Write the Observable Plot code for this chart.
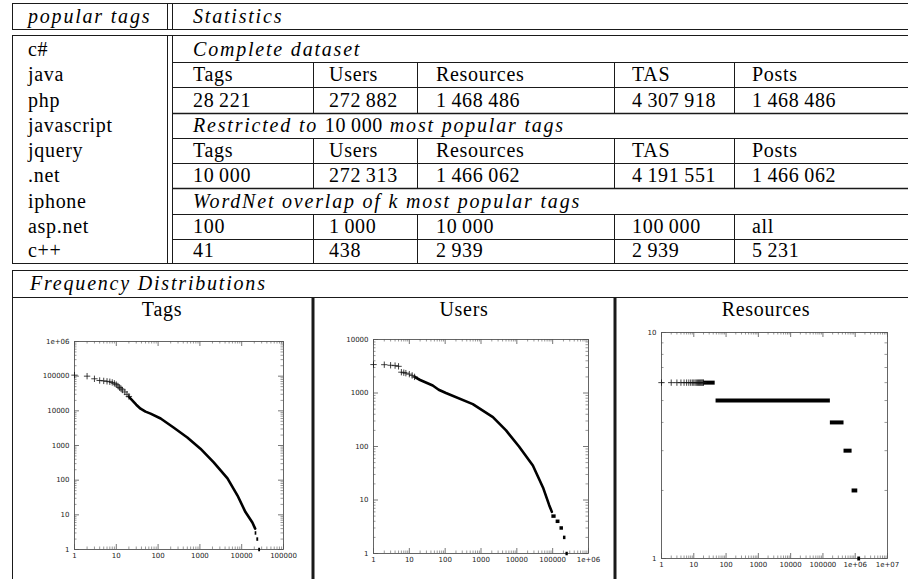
<!DOCTYPE html>
<html><head><meta charset="utf-8">
<script src="https://cdn.jsdelivr.net/npm/d3@7"></script>
<script src="https://cdn.jsdelivr.net/npm/@observablehq/plot@0.6"></script>
<style>
html,body{margin:0;padding:0;background:#fff;}
#page{position:relative;width:908px;height:579px;overflow:hidden;background:#fff;}
#page svg.layout{position:absolute;left:0;top:0;}
.chart{position:absolute;}
</style></head><body><div id="page"></div>
<script>
// ---------- table data ----------
const headerLeft = "popular tags";
const headerRight = "Statistics";
const popularTags = ["c#", "java", "php", "javascript", "jquery", ".net", "iphone", "asp.net", "c++"];
const statHeaders = ["Tags", "Users", "Resources", "TAS", "Posts"];
const completeDataset = [28221, 272882, 1468486, 4307918, 1468486];
const restrictedDataset = [10000, 272313, 1466062, 4191551, 1466062];
const wordnetK = [100, 1000, 10000, 100000, "all"];
const wordnetOverlap = [41, 438, 2939, 2939, 5231];
const sectionTitle = "Frequency Distributions";
const panelTitles = ["Tags", "Users", "Resources"];

// ---------- plot data (rank, frequency) ----------
const tagsSparse = [[1,107000],[2,100000],[3,84000],[4,75000],[5,73000],[6,71000],[7,69000],[8,66000],[9,62000],[10,57000],[11,52000],[12,47000],[13,43000],[14,40000],[16,35000],[18,30000],[20,26000]];
const tagsCurve = [[20,26000],[22,22400],[30,15000],[38,11500],[50,9500],[66,8300],[115,6000],[234,3300],[500,1700],[1030,810],[2140,325],[4570,112],[7940,36],[12300,12],[18000,6],[21000,4]];
const tagsTail = [[3,21000,23000],[2,23000,25500],[1,25500,28221]];
const tagsXTicks = [1,10,100,1000,10000,100000];
const tagsYTicks = [1,10,100,1000,10000,100000,1000000];

const usersSparse = [[1,3400],[2,3380],[3,3300],[4,3250],[5,3150],[6,2450],[7,2400],[8,2350],[10,2250],[12,2130],[14,2000]];
const usersCurve = [[14,2000],[20,1750],[45,1380],[66,1150],[105,1000],[590,620],[2150,355],[5000,200],[11500,100],[28000,44],[54000,17],[80000,8],[95000,6]];
const usersTail = [[5,95000,125000],[4,125000,160000],[3,160000,200000],[2,200000,235000],[1,235000,272882]];
const usersXTicks = [1,10,100,1000,10000,100000,1000000];
const usersYTicks = [1,10,100,1000,10000];

const resSparse = [[1,6],[2,6],[3,6],[4,6],[5,6],[6,6],[7,6],[8,6],[9,6],[10,6],[11,6],[12,6],[13,6],[14,6],[15,6],[16,6],[17,6],[18,6],[19,6],[20,6]];
const resBars = [[6,20,46],[5,49,170000],[4,170000,450000],[3,450000,800000],[2,800000,1200000],[1,1200000,1468486]];
const resXTicks = [1,10,100,1000,10000,100000,1000000,10000000];
const resYTicks = [1,10];

// ---------- layout ----------
const page = d3.select("#page");
const svg = page.append("svg").attr("class","layout").attr("width",908).attr("height",579);
const INK = "#1a1a1a";
const SERIF = "'Liberation Serif', 'DejaVu Serif', serif";
const IT_LS = 1.8, UP_LS = 0.7;
function hline(x1,x2,y,w=1){svg.append("line").attr("x1",x1).attr("x2",x2).attr("y1",y).attr("y2",y).attr("stroke",INK).attr("stroke-width",w);}
function vline(x,y1,y2,w=1){svg.append("line").attr("x1",x).attr("x2",x).attr("y1",y1).attr("y2",y2).attr("stroke",INK).attr("stroke-width",w);}
function txt(x,y,s,{italic=false,anchor="start",size=20}={}){
  return svg.append("text").attr("x",x).attr("y",y).attr("text-anchor",anchor)
    .attr("font-family",SERIF).attr("font-size",size).attr("fill","#000")
    .attr("font-style",italic?"italic":"normal").attr("letter-spacing",italic?IT_LS:UP_LS).text(s);
}
const fmtNum = v => typeof v === "number" ? String(v).replace(/\B(?=(\d{3})+(?!\d))/g, "\u2009") : v;

// header box
hline(12,908,3.5); hline(12,908,29.5);
vline(12.5,3,30); vline(167.5,3,30); vline(172.5,3,30);
txt(28,23,headerLeft,{italic:true});
txt(193,23,headerRight,{italic:true});

// body box
const rowBottoms = [62,87,113,138,163,188,214,239,263];
const rowTops = [35].concat(rowBottoms.slice(0,-1));
hline(12,908,35.5); hline(12,908,263.5);
vline(12.5,35,264); vline(167.5,35,264); vline(172.5,35,264);
rowBottoms.slice(0,-1).forEach((y,i)=>hline(172,908,y+0.5,(i===2||i===5)?1.6:1));
const colLines = [313,417,614,734];
[[1,2],[4,5],[7,8]].forEach(([a,b])=>colLines.forEach(x=>vline(x+0.5,rowTops[a],rowBottoms[b])));
popularTags.forEach((t,i)=>txt(28,rowBottoms[i]-6,t));
const colX = [193,329,436,632,752];
txt(193,rowBottoms[0]-6,"Complete dataset",{italic:true});
statHeaders.forEach((h,j)=>txt(colX[j],rowBottoms[1]-6,h));
completeDataset.forEach((v,j)=>txt(colX[j],rowBottoms[2]-6,fmtNum(v)));
{
  const t = svg.append("text").attr("x",193).attr("y",rowBottoms[3]-6).attr("font-family",SERIF).attr("font-size",20);
  t.append("tspan").attr("font-style","italic").attr("letter-spacing",IT_LS).text("Restricted to ");
  t.append("tspan").attr("letter-spacing",UP_LS).text(fmtNum(restrictedDataset[0]));
  t.append("tspan").attr("font-style","italic").attr("letter-spacing",IT_LS).text(" most popular tags");
}
statHeaders.forEach((h,j)=>txt(colX[j],rowBottoms[4]-6,h));
restrictedDataset.forEach((v,j)=>txt(colX[j],rowBottoms[5]-6,fmtNum(v)));
txt(193,rowBottoms[6]-6,"WordNet overlap of k most popular tags",{italic:true});
wordnetK.forEach((v,j)=>txt(colX[j],rowBottoms[7]-6,fmtNum(v)));
wordnetOverlap.forEach((v,j)=>txt(colX[j],rowBottoms[8]-6,fmtNum(v)));

// frequency section
hline(12,908,270.5); hline(12,908,297.5);
vline(12.5,270,579);
vline(313,297,579,3); vline(615,297,579,3);
txt(30,290,sectionTitle,{italic:true});
const titleX = [162,464,766];
panelTitles.forEach((t,i)=>txt(titleX[i],316,t,{anchor:"middle"}));

// ---------- gnuplot-like log-log charts ----------
const AX = "#555";
const tickFmt = v => v >= 1e6 ? "1e+0" + Math.round(Math.log10(v)) : String(v);
function gnuplot({xDomain,yDomain,xTicks,yTicks,fw,fh,left,top,marks}){
  const ml=40, mr=18, mt=8, mb=20;
  const minor = (ticks,dom)=>{const o=[];ticks.forEach(t=>{for(let k=2;k<=9;k++){const v=t*k;if(v>dom[0]&&v<dom[1])o.push(v);}});return o;};
  const xm = minor(xTicks,xDomain), ym = minor(yTicks,yDomain);
  const T=5, t=2.5;
  const chart = Plot.plot({
    width: ml+fw+mr, height: mt+fh+mb,
    marginLeft: ml, marginRight: mr, marginTop: mt, marginBottom: mb,
    x: {type:"log", domain:xDomain, label:null},
    y: {type:"log", domain:yDomain, label:null},
    style: {background:"transparent", overflow:"visible", fontFamily:"'DejaVu Sans', sans-serif"},
    marks: [
      Plot.ruleX(xTicks,{stroke:AX,strokeWidth:0.8,insetTop:fh-T}),
      Plot.ruleX(xTicks,{stroke:AX,strokeWidth:0.8,insetBottom:fh-T}),
      Plot.ruleX(xm,{stroke:AX,strokeWidth:0.6,insetTop:fh-t}),
      Plot.ruleX(xm,{stroke:AX,strokeWidth:0.6,insetBottom:fh-t}),
      Plot.ruleY(yTicks,{stroke:AX,strokeWidth:0.8,insetRight:fw-T}),
      Plot.ruleY(yTicks,{stroke:AX,strokeWidth:0.8,insetLeft:fw-T}),
      Plot.ruleY(ym,{stroke:AX,strokeWidth:0.6,insetRight:fw-t}),
      Plot.ruleY(ym,{stroke:AX,strokeWidth:0.6,insetLeft:fw-t}),
      Plot.frame({stroke:AX,strokeWidth:0.9}),
      Plot.axisX({ticks:xTicks,tickSize:0,tickPadding:4,tickFormat:tickFmt,fontSize:7,fill:"#222",label:null}),
      Plot.axisY({ticks:yTicks,tickSize:0,tickPadding:5,tickFormat:tickFmt,fontSize:7,fill:"#222",label:null}),
      ...marks
    ]
  });
  chart.classList.add("chart");
  chart.style.left = (left-ml)+"px";
  chart.style.top = (top-mt)+"px";
  page.node().appendChild(chart);
}
const plusDots = data => Plot.dot(data,{x:d=>d[0],y:d=>d[1],symbol:"plus",r:2.2,stroke:"#111",strokeWidth:0.8});
const curve = (data,w) => Plot.line(data,{x:d=>d[0],y:d=>d[1],stroke:"#000",strokeWidth:w});
const bars = (data,w) => Plot.ruleY(data,{y:d=>d[0],x1:d=>d[1],x2:d=>d[2],stroke:"#000",strokeWidth:w});

gnuplot({xDomain:[1,100000],yDomain:[1,1000000],xTicks:tagsXTicks,yTicks:tagsYTicks,fw:209,fh:208,left:74,top:341,
  marks:[curve(tagsCurve,2.6),plusDots(tagsSparse),bars(tagsTail,3.5)]});
gnuplot({xDomain:[1,1000000],yDomain:[1,10000],xTicks:usersXTicks,yTicks:usersYTicks,fw:215,fh:214,left:373,top:339,
  marks:[curve(usersCurve,2.6),plusDots(usersSparse),bars(usersTail,3.5)]});
gnuplot({xDomain:[1,10000000],yDomain:[1,10],xTicks:resXTicks,yTicks:resYTicks,fw:226,fh:226,left:661,top:332,
  marks:[bars(resBars,4),plusDots(resSparse)]});
</script>
</body></html>
